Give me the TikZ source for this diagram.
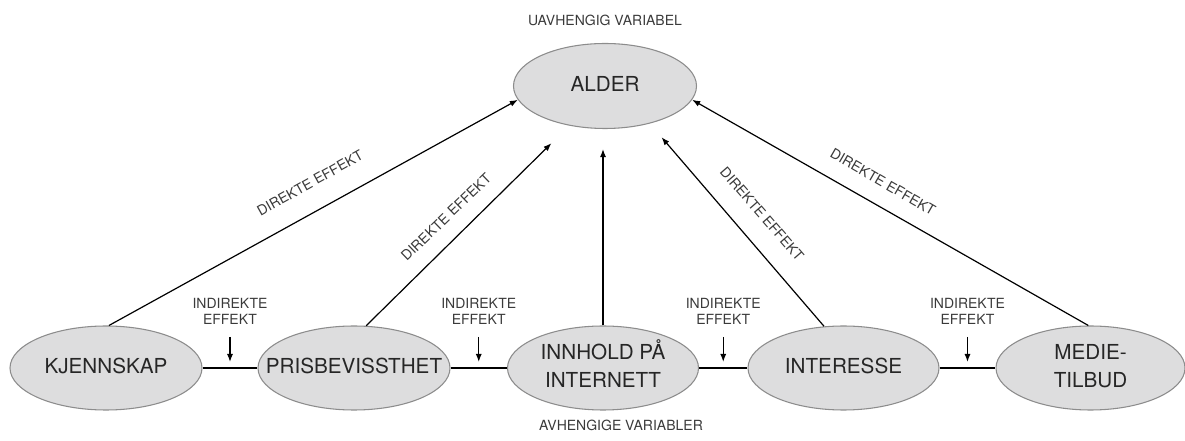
\documentclass[tikz,border=0pt]{standalone}
\usepackage{fontspec}
\setmainfont{TeX Gyre Heros}
\usetikzlibrary{shapes.geometric,arrows.meta,calc}
\definecolor{txt}{HTML}{262626}
\definecolor{stxt}{HTML}{3A3A3A}
\definecolor{efill}{HTML}{DDDDDE}
\definecolor{edraw}{HTML}{8C8C8C}
\newcommand{\zw}[1]{\makebox[0pt][c]{\begin{tabular}{@{}c@{}}#1\end{tabular}}}
\begin{document}
\begin{tikzpicture}[x=0.75pt,y=0.75pt,
  var/.style={ellipse, draw=edraw, line width=0.8pt, fill=efill, inner sep=0pt,
              minimum height=63pt, text=txt, font=\fontsize{15.5}{21}\selectfont},
  small/.style={text=stxt, inner sep=0pt, font=\fontsize{10.5}{12}\selectfont, align=center},
  arr/.style={line width=0.9pt, -{Latex[length=6pt,width=4.5pt]}},
  link/.style={line width=0.9pt}]
\useasboundingbox (0,0) rectangle (1185,-441);
% nodes
\node[var, minimum width=137.25pt, minimum height=63.75pt] (alder) at (605,-86) {\zw{ALDER}};
\node[var, minimum width=144pt] (kj)  at (106,-368)  {\zw{KJENNSKAP}};
\node[var, minimum width=144pt] (pb)  at (354,-368)  {\zw{PRISBEVISSTHET}};
\node[var, minimum width=143.25pt] (inn) at (603,-368) {\zw{INNHOLD PÅ\\INTERNETT}};
\node[var, minimum width=143.25pt] (int) at (843.5,-368) {\zw{INTERESSE}};
\node[var, minimum width=141.75pt] (med) at (1090.5,-368) {\zw{MEDIE-\\TILBUD}};
% labels
\node[small, anchor=base] (uv) at (605,-26) {UAVHENGIG VARIABEL};
\node[small, anchor=base] (av) at (621,-431) {AVHENGIGE VARIABLER};
% horizontal links
\draw[link] (kj.east) -- (pb.west);
\draw[link] (pb.east) -- (inn.west);
\draw[link] (inn.east) -- (int.west);
\draw[link] (int.east) -- (med.west);
% indirect effects
\coordinate (m1) at ($(kj.east)!0.5!(pb.west)$);
\coordinate (m2) at ($(pb.east)!0.5!(inn.west)$);
\coordinate (m3) at ($(inn.east)!0.5!(int.west)$);
\coordinate (m4) at ($(int.east)!0.5!(med.west)$);
\foreach \m in {1,2,3,4}{
  \node[small] (i\m) at ($(m\m)+(0,57)$) {INDIREKTE\\EFFEKT};
  \draw[arr] ($(m\m)+(0,31)$) -- ($(m\m)+(0,6)$);
}
% direct effects
\draw[arr] (kj.86) -- (alder.189);
\draw[arr, shorten >=18.75pt] (pb.74) -- (alder.228.5);
\draw[arr, shorten >=15pt] (inn.north) -- (inn.north |- alder.south);
\draw[arr, shorten >=13.5pt] (int.115) -- (alder.320.5);
\draw[arr] (med.93) -- (alder.351);
\node[small, rotate=29]  (d1) at (310,-183) {DIREKTE EFFEKT};
\node[small, rotate=44]  (d2) at (446,-217) {DIREKTE EFFEKT};
\node[small, rotate=-49] (d3) at (762,-214) {DIREKTE EFFEKT};
\node[small, rotate=-30] (d4) at (883,-182) {DIREKTE EFFEKT};
\end{tikzpicture}
\end{document}
